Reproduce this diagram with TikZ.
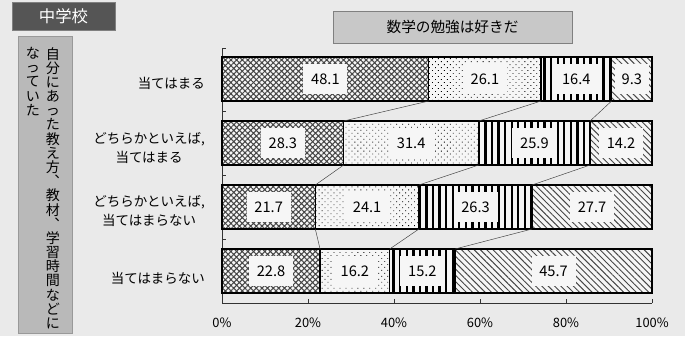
\documentclass[tikz,border=0pt]{standalone}
\usepackage{fontspec}
\setmainfont{Noto Sans CJK JP}
\usepackage{tikz}
\usetikzlibrary{patterns.meta}
\definecolor{paper}{RGB}{234,234,234}
\definecolor{boxwhite}{RGB}{246,246,246}
\definecolor{patgray}{RGB}{70,70,70}
\definecolor{headdark}{RGB}{85,85,85}
\definecolor{titlegray}{RGB}{200,200,200}
\definecolor{sidegray}{RGB}{185,185,185}
\tikzset{
    bar outline/.style={line width=1.1pt, black},
    part 1/.style={preaction={fill=boxwhite}, pattern={Hatch[angle=45,distance=3.4pt,line width=0.9pt]}, pattern color=patgray},
    part 2/.style={preaction={fill=boxwhite}, pattern={Dots[angle=45,distance=3.6pt,radius=0.5pt]}, pattern color=black},
    part 3/.style={preaction={fill=boxwhite}, pattern={Lines[angle=90,distance=5.6pt,line width=2pt]}, pattern color=black},
    part 4/.style={preaction={fill=boxwhite}, pattern={Lines[angle=-45,distance=3.8pt,line width=0.8pt]}, pattern color=patgray},
    value box/.style={fill=boxwhite, inner sep=0pt, minimum height=0.9cm, font=\fontsize{12.5}{14}\selectfont},
    answer/.style={anchor=east, align=center, font=\fontsize{11.5}{15.4}\selectfont},
    column text/.style={anchor=north, align=center, inner sep=0pt, font={\fontsize{12}{12.1}\selectfont\lineskiplimit=-5pt}},
    percent/.style={font=\fontsize{11}{13}\selectfont},
    link/.style={thin, black!75},
}
\begin{document}
\begin{tikzpicture}[x=0.03cm, y=-0.03cm]
\useasboundingbox (0,0) rectangle (685,336);
\fill[paper] (0,0) rectangle (685,336);

\node[draw=gray, fill=headdark, text=white, minimum width=3.09cm, minimum height=0.84cm, font=\fontsize{14}{16}\selectfont] (school) at (63.5,16) {中学校};
\node[draw=gray, fill=titlegray, minimum width=7.17cm, minimum height=0.96cm, font=\fontsize{12.5}{14}\selectfont] (title) at (452.5,27) {数学の勉強は好きだ};
\node[draw=gray!80, fill=sidegray, minimum width=1.62cm, minimum height=8.91cm] (side) at (45,184.5) {};
\node[column text] (side right) at (53,47) {自\\分\\に\\あ\\っ\\た\\教\\え\\方\\︑\\教\\材\\︑\\学\\習\\時\\間\\な\\ど\\に};
\node[column text] (side left) at (33,47) {な\\っ\\て\\い\\た};

\node[answer] (a1) at (209,83) {当てはまる};
\node[answer] (a2) at (209,148) {どちらかといえば,\\当てはまる};
\node[answer] (a3) at (209,211) {どちらかといえば,\\当てはまらない};
\node[answer] (a4) at (209,278) {当てはまらない};

\begin{scope}[shift={(222,0)}, x=0.129cm]
\draw[black!80] (0,48) -- (0,303) -- (100,303);
\foreach \t in {48,111,175,239} \draw[black!80] (0,\t) -- (1,\t);
\foreach \p in {20,40,...,100} \draw[black!80] (\p,303) -- (\p,299);
\foreach \p in {0,20,...,100} \node[percent] (p\p) at (\p,323) {\p\%};

\foreach \r/\vals in {1/{48.1,26.1,16.4,9.3}, 2/{28.3,31.4,25.9,14.2}, 3/{21.7,24.1,26.3,27.7}, 4/{22.8,16.2,15.2,45.7}}{
  \pgfmathsetmacro\yt{57+64*(\r-1)}
  \pgfmathsetmacro\yb{\yt+44}
  \foreach \v [count=\k, remember=\e as \s (initially 0)] in \vals {
    \pgfmathsetmacro\e{\k==4 ? 100 : \s+\v}
    \pgfmathsetmacro\w{min(44,4.3*(\e-\s)-6)*0.03}
    \draw[bar outline, part \k] (\s,\yt) rectangle (\e,\yb);
    \node[value box, minimum width=\w cm] (v\r-\k) at ({(\s+\e)/2},{\yt+22}) {\v};
    \coordinate (t\r-\k) at (\e,\yt);
    \coordinate (b\r-\k) at (\e,\yb);
  }
}
\foreach \r in {1,2,3} {
  \pgfmathtruncatemacro\n{\r+1}
  \foreach \k in {1,2,3} \draw[link] (b\r-\k) -- (t\n-\k);
}
\end{scope}
\end{tikzpicture}
\end{document}
